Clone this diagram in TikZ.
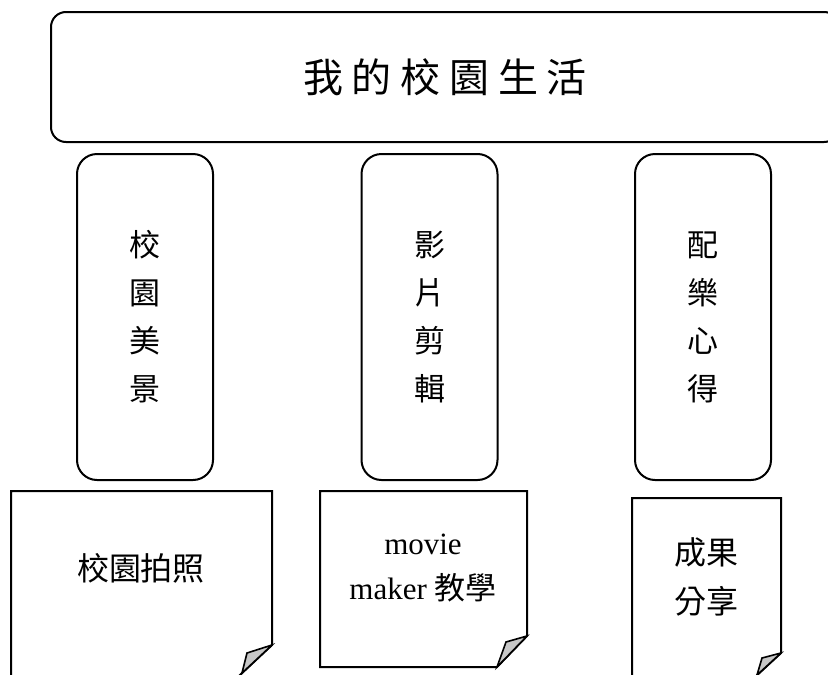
\documentclass[tikz,border=0pt]{standalone}
\usepackage{fontspec}
\setmainfont{Liberation Serif}
\newfontfamily\cjk{Noto Sans CJK TC}
\newfontfamily\cjktitle[LetterSpace=22]{Noto Sans CJK TC}

\begin{document}
\begin{tikzpicture}[x=1pt,y=-1pt,line width=2pt,
  topic/.style={draw,rounded corners=20pt,minimum width=136pt,minimum height=326pt,align=center,font=\cjk\fontsize{31pt}{48pt}\selectfont},
  note/.style={draw,line join=miter},
  fold/.style={draw,fill=black!22,line width=1.6pt},
  notetext/.style={align=center,font=\fontsize{32pt}{47pt}\selectfont}]
\useasboundingbox (0,0) rectangle (828,675);
\node[draw,rounded corners=15pt,minimum width=788pt,minimum height=130pt,font=\cjktitle\fontsize{40pt}{40pt}\selectfont] (title) at (445,77) {我的校園生活};
\node[topic] (scene) at (145,317) {校\\園\\美\\景};
\node[topic] (edit) at (429.5,317) {影\\片\\剪\\輯};
\node[topic] (music) at (703,317) {配\\樂\\心\\得};
% notes with folded corners
\draw[note] (11,690) -- (11,491) -- (272,491) -- (272,645) -- (224,690);
\draw[fold] (272,645) -- (247,653) -- (242,673) -- cycle;
\draw[note] (320,491) -- (527,491) -- (527,636) -- (497,667) -- (320,667) -- cycle;
\draw[fold] (527,636) -- (506,642) -- (497,667) -- cycle;
\draw[note] (632,690) -- (632,498) -- (781,498) -- (781,653) -- (741,690);
\draw[fold] (781,653) -- (762,658) -- (757,675) -- cycle;
\node[notetext,font=\cjk\fontsize{32pt}{47pt}\selectfont] (photo) at (141,568) {校園拍照};
\node[notetext,font=\fontsize{31pt}{45pt}\selectfont] (movie) at (423,568) {movie\\maker {\cjk 教學}};
\node[notetext,font=\cjk\fontsize{32pt}{49pt}\selectfont] (share) at (706,577) {成果\\分享};
\end{tikzpicture}
\end{document}
